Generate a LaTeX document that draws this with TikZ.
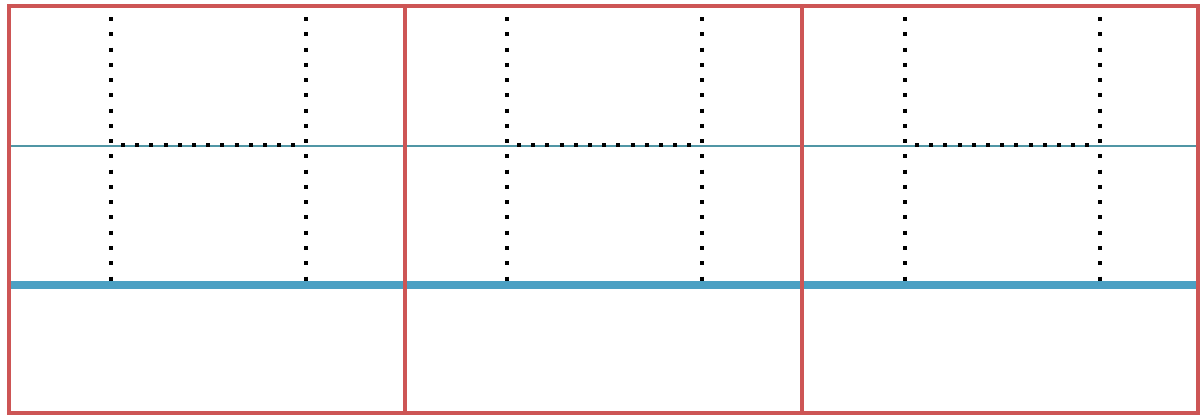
\documentclass[tikz,border=0pt]{standalone}
\usepackage{tikz}
\definecolor{panelred}{RGB}{205,85,85}
\definecolor{thinblue}{RGB}{80,150,165}
\definecolor{thickblue}{RGB}{75,160,195}
\tikzset{
  dotline/.style={line width=3pt,dash pattern=on 3pt off 8.45pt},
  dotrow/.style={line width=3pt,dash pattern=on 3pt off 7.65pt}
}
\begin{document}
\begin{tikzpicture}[x=0.75pt,y=-0.75pt]
\useasboundingbox (0,0) rectangle (1202,418);
\draw[thinblue,line width=1.3pt] (10,146) -- (1198,146);
\draw[thickblue,line width=5.8pt] (10,285) -- (1198,285);
\draw[panelred,line width=2.6pt] (9,6) rectangle (1198,413);
\draw[panelred,line width=2.6pt] (405,6) -- (405,413);
\draw[panelred,line width=2.6pt] (802,6) -- (802,413);
% first panel
\draw[dotline] (111,17) -- (111,281);
\draw[dotline] (306,17) -- (306,281);
\draw[dotrow] (121,145) -- (296,145);
% second panel
\draw[dotline] (507,17) -- (507,281);
\draw[dotline] (702,17) -- (702,281);
\draw[dotrow] (517,145) -- (692,145);
% third panel
\draw[dotline] (905,17) -- (905,281);
\draw[dotline] (1100,17) -- (1100,281);
\draw[dotrow] (915,145) -- (1090,145);
\end{tikzpicture}
\end{document}
